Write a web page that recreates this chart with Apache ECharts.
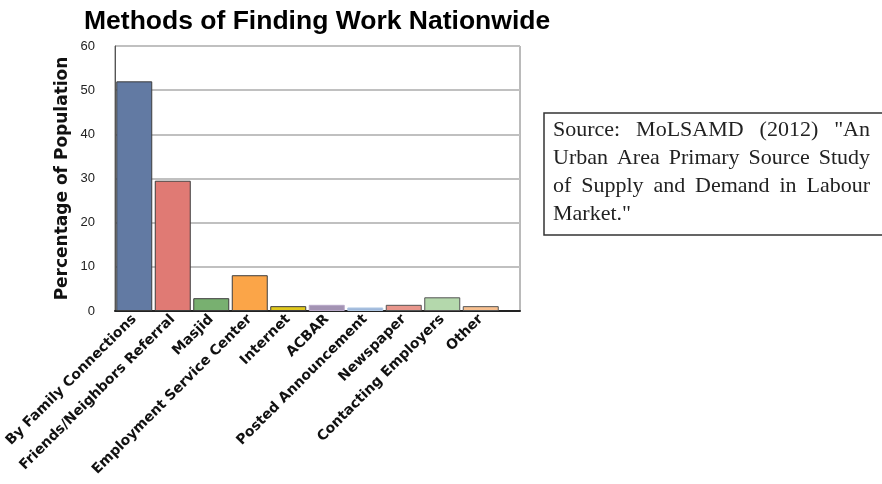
<!DOCTYPE html>
<html>
<head>
<meta charset="utf-8">
<script src="https://cdn.jsdelivr.net/npm/echarts@6/dist/echarts.min.js"></script>
<style>html,body{margin:0;padding:0;background:#fff;}#c{width:882px;height:484px;}</style>
</head>
<body>
<div id="c"></div>
<script>
const titleText = 'Methods of Finding Work Nationwide';
const yAxisName = 'Percentage of Population';
const categories = ['By Family Connections', 'Friends/Neighbors Referral', 'Masjid', 'Employment Service Center', 'Internet', 'ACBAR', 'Posted Announcement', 'Newspaper', 'Contacting Employers', 'Other'];
const values = [52, 29.5, 2.9, 8.1, 1.1, 1.4, 0.8, 1.4, 3.1, 1.1];
const yTicks = [0, 10, 20, 30, 40, 50, 60];
const sourceLines = ['Source: MoLSAMD (2012) "An', 'Urban Area Primary Source Study', 'of Supply and Demand in Labour', 'Market."'];

const palette = ['#627aa3', '#e07a74', '#78b070', '#fba548', '#e0c81c', '#a393b3', '#9fb8da', '#e8968c', '#b4d8ac', '#f8c090'];
const borders = ['#3c3c3c', '#3c3c3c', '#3c3c3c', '#3c3c3c', '#3c3c3c', '#b8a8c8', '#b0c8e4', '#555', '#555', '#555'];

const chart = echarts.init(document.getElementById('c'), null, {renderer: 'canvas'});

// justified source text
const srcFont = '22px "Liberation Serif", "Times New Roman", serif';
const cv = document.createElement('canvas').getContext('2d');
cv.font = srcFont;
const textLeft = 553, textRight = 870;
const lineY = [130, 158, 186, 214];
const srcElems = [];
sourceLines.forEach((line, li) => {
  const words = line.split(' ');
  const widths = words.map(w => cv.measureText(w).width);
  const sum = widths.reduce((a, b) => a + b, 0);
  const last = li === sourceLines.length - 1;
  const gap = last || words.length < 2 ? cv.measureText(' ').width : (textRight - textLeft - sum) / (words.length - 1);
  let x = textLeft;
  words.forEach((w, i) => {
    srcElems.push({
      type: 'text', x: x, y: lineY[li], z: 10,
      style: {text: w, font: srcFont, fill: '#222', textAlign: 'left', textVerticalAlign: 'middle'}
    });
    x += widths[i] + gap;
  });
});

const option = {
  backgroundColor: '#fff',
  animation: false,
  title: {
    text: titleText, left: 84, top: 8, padding: 0,
    textStyle: {fontFamily: '"Liberation Sans", Arial, sans-serif', fontWeight: 'bold', fontSize: 26.5, color: '#000'}
  },
  grid: [
    {left: 115, top: 46, width: 385, height: 265, containLabel: false},
    {left: 115, top: 46, width: 405, height: 265, show: true, borderColor: '#777', borderWidth: 1, backgroundColor: '#fff', z: -1}
  ],
  xAxis: [
    {
      type: 'category', gridIndex: 0, data: categories,
      axisLine: {show: false}, axisTick: {show: false},
      axisLabel: {rotate: 45, interval: 0, margin: 6, color: '#111',
        fontFamily: '"DejaVu Sans", sans-serif', fontWeight: 'bold', fontSize: 14},
      splitLine: {show: false}
    },
    {
      type: 'value', gridIndex: 1, min: 0, max: 1,
      axisLine: {show: true, lineStyle: {color: '#222', width: 2}},
      axisTick: {show: false}, axisLabel: {show: false}, splitLine: {show: false}
    }
  ],
  yAxis: [
    {
      type: 'value', gridIndex: 0, min: yTicks[0], max: yTicks[yTicks.length - 1], interval: 10,
      name: yAxisName, nameLocation: 'middle', nameGap: 44,
      nameTextStyle: {fontFamily: '"DejaVu Sans", sans-serif', fontWeight: 'bold', fontSize: 17, color: '#111'},
      axisLine: {show: true, lineStyle: {color: '#555', width: 1}},
      axisTick: {show: false},
      axisLabel: {margin: 20, color: '#222', fontFamily: '"Liberation Sans", Arial, sans-serif', fontSize: 13},
      splitLine: {show: false}
    },
    {
      type: 'value', gridIndex: 1, min: 0, max: 60, interval: 10,
      axisLine: {show: false}, axisTick: {show: false}, axisLabel: {show: false},
      splitLine: {show: true, lineStyle: {color: '#c0c0c0', width: 2}}
    }
  ],
  series: [{
    type: 'bar', xAxisIndex: 0, yAxisIndex: 0, barWidth: 36,
    data: values.map((v, i) => ({value: v, itemStyle: {color: palette[i], borderColor: borders[i], borderWidth: 1}}))
  }],
  graphic: [
    {type: 'rect', z: 5, shape: {x: 544, y: 113, width: 360, height: 122},
     style: {fill: '#fff', stroke: '#333', lineWidth: 1.5}}
  ].concat(srcElems)
};
chart.setOption(option);
</script>
</body>
</html>
